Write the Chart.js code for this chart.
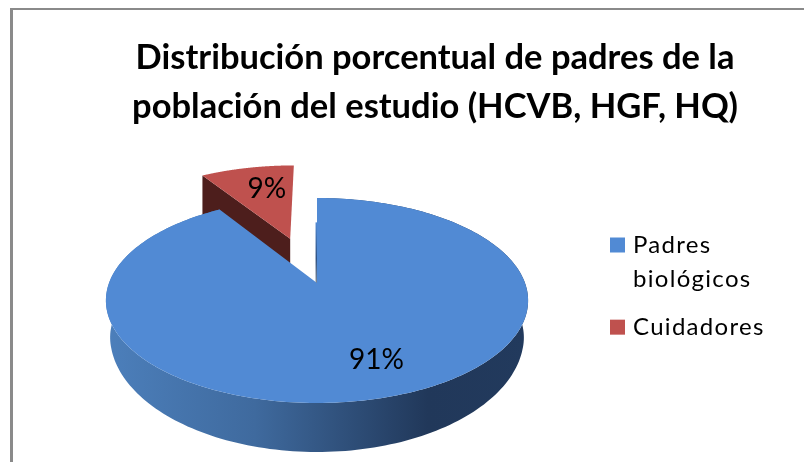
<!DOCTYPE html>
<html><head><meta charset="utf-8">
<style>html,body{margin:0;padding:0;background:#fff;overflow:hidden}#w{width:804px;height:462px}</style>
<script src="https://cdn.jsdelivr.net/npm/chart.js@4"></script>
</head><body><div id="w"><canvas id="c" width="804" height="462"></canvas></div>
<script>
const categories = [["Padres", "biológicos"], "Cuidadores"];
const values = [91, 9];
const explode = [0, 0.5];
const topColors = ["#518AD4", "#BF514E"];
const titleLines = ["Distribución porcentual de padres de la", "población del estudio (HCVB, HGF, HQ)"];
const labelRadii = [0.72, 0.7];
const labelNudges = [[12, -1], [8, 2]];

// perspective of the tilted disc: unit circle -> screen
const view = {cx: 317, cy: 283, ax: 208, by: 99.5, k: -0.1707, depth: 33.7, minDepth: 37, backDepth: 42, shrink: 0.98};
function project(u, v) {
  const w = 1 + view.k * v;
  return {x: view.cx + view.ax * u / w, y: view.cy + view.by * v / w, w};
}

class Arc3D extends Chart.ArcElement {
  static id = 'arc3d';
  draw(ctx) {
    const {startAngle: a0, endAngle: a1} = this.getProps(['startAngle', 'endAngle']);
    const e = this.options.offset || 0;
    const mid = (a0 + a1) / 2;
    const ox = Math.cos(mid) * e, oy = Math.sin(mid) * e;
    const n = 240;
    const rim = [];
    for (let i = 0; i <= n; i++) {
      const a = a0 + (a1 - a0) * i / n;
      rim.push(project(ox + Math.cos(a), oy + Math.sin(a)));
    }
    const apex = project(ox, oy);
    const bottom = p => ({
      x: view.cx + (p.x - view.cx) * view.shrink,
      y: p.y + Math.max(view.minDepth, view.depth / (p.w * p.w))
    });
    ctx.save();
    if (e > 0) {
      // visible radial wall of the pulled-out slice
      const o = rim[0];
      ctx.beginPath();
      ctx.moveTo(apex.x, apex.y);
      ctx.lineTo(o.x, o.y);
      ctx.lineTo(o.x, o.y + view.backDepth);
      ctx.lineTo(apex.x, apex.y + view.backDepth);
      ctx.closePath();
      ctx.fillStyle = '#4D1E1C';
      ctx.fill();
    } else {
      // outer curved wall
      const g = ctx.createLinearGradient(107, 0, 529, 0);
      g.addColorStop(0, '#4C7FBB');
      g.addColorStop(0.35, '#3F6A9E');
      g.addColorStop(0.76, '#21385A');
      g.addColorStop(1, '#223A5D');
      ctx.beginPath();
      rim.forEach((p, i) => i ? ctx.lineTo(p.x, p.y) : ctx.moveTo(p.x, p.y));
      for (let i = n; i >= 0; i--) { const b = bottom(rim[i]); ctx.lineTo(b.x, b.y); }
      ctx.closePath();
      ctx.fillStyle = g;
      ctx.fill();
      // thin inner wall seen almost edge-on
      const t = project(ox, oy - 0.68);
      const g2 = ctx.createLinearGradient(0, t.y, 0, apex.y);
      g2.addColorStop(0, '#518AD4');
      g2.addColorStop(0.6, '#2F5283');
      g2.addColorStop(1, '#7A8797');
      ctx.strokeStyle = g2;
      ctx.lineWidth = 1.5;
      ctx.beginPath();
      ctx.moveTo(t.x - 0.7, t.y);
      ctx.lineTo(apex.x - 0.7, apex.y);
      ctx.stroke();
    }
    // top face
    ctx.beginPath();
    ctx.moveTo(apex.x, apex.y);
    rim.forEach(p => ctx.lineTo(p.x, p.y));
    ctx.closePath();
    ctx.fillStyle = this.options.backgroundColor;
    ctx.fill();
    ctx.restore();
  }
  labelPoint(r) {
    const {startAngle: a0, endAngle: a1} = this.getProps(['startAngle', 'endAngle']);
    const e = this.options.offset || 0, mid = (a0 + a1) / 2;
    return project(Math.cos(mid) * (e + r), Math.sin(mid) * (e + r));
  }
}
class Pie3D extends Chart.PieController {
  static id = 'pie3d';
  static defaults = {dataElementType: 'arc3d'};
  draw() {
    const ctx = this.chart.ctx, arcs = this.getMeta().data;
    for (let i = arcs.length - 1; i >= 0; i--) arcs[i].draw(ctx);
  }
}
Chart.register(Arc3D, Pie3D);

const decorate = {
  id: 'decorate',
  beforeDraw(chart) {
    const ctx = chart.ctx;
    ctx.save();
    ctx.fillStyle = '#fff';
    ctx.fillRect(0, 0, chart.width, chart.height);
    ctx.fillStyle = '#8A8A8A';
    ctx.fillRect(10, 8, chart.width - 10, 2);
    ctx.fillRect(10, 8, 3, chart.height - 8);
    ctx.restore();
  },
  afterLayout(chart) {
    const t = chart.titleBlock, l = chart.legend;
    t.left = 66; t.right = 804; t.top = 33;
    l.left = 600; l.top = 219;
    if (!l._wrapped) {
      const d = l.draw;
      l.draw = function () {
        chart.ctx.save();
        chart.ctx.letterSpacing = '1.3px';
        d.call(l);
        chart.ctx.restore();
      };
      l._wrapped = true;
    }
  },
  afterDatasetsDraw(chart) {
    const ctx = chart.ctx, total = values.reduce((a, b) => a + b, 0);
    ctx.save();
    ctx.font = '28px Lato';
    ctx.fillStyle = '#000';
    ctx.textAlign = 'center';
    ctx.textBaseline = 'middle';
    chart.getDatasetMeta(0).data.forEach((arc, i) => {
      const p = arc.labelPoint(labelRadii[i]);
      ctx.fillText(Math.round(values[i] / total * 100) + '%', p.x + labelNudges[i][0], p.y + labelNudges[i][1]);
    });
    ctx.restore();
  }
};

new Chart(document.getElementById('c'), {
  type: 'pie3d',
  plugins: [decorate],
  data: {
    labels: categories,
    datasets: [{
      data: values,
      backgroundColor: topColors,
      borderColor: topColors,
      borderWidth: 8,
      offset: explode
    }]
  },
  options: {
    responsive: false,
    animation: false,
    plugins: {
      tooltip: {enabled: false},
      title: {
        display: true,
        text: titleLines,
        color: '#000',
        padding: 0,
        font: {family: 'Lato', size: 34.5, weight: 'bold', lineHeight: 1.42}
      },
      legend: {
        position: 'right',
        align: 'start',
        labels: {
          boxWidth: 7,
          boxHeight: 7,
          padding: 14,
          color: '#000',
          font: {family: 'Lato', size: 24, lineHeight: 1.42}
        }
      }
    }
  }
});
</script></body></html>
